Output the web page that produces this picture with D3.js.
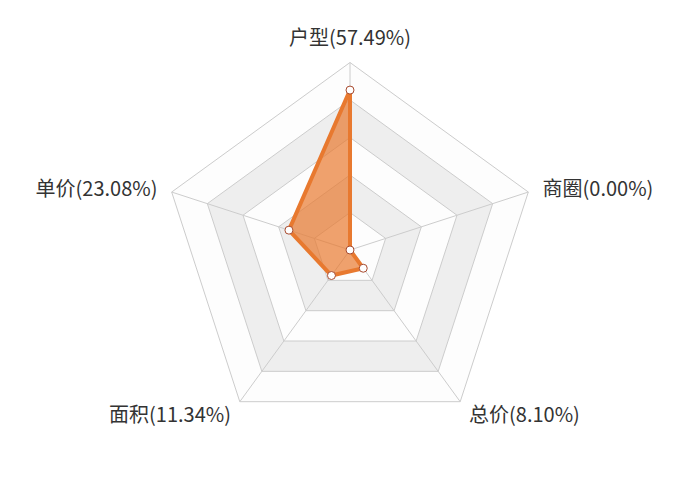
<!DOCTYPE html>
<html>
<head>
<meta charset="utf-8">
<script src="https://cdn.jsdelivr.net/npm/d3@7"></script>
<style>
html,body{margin:0;padding:0;background:#fff;}
svg{display:block;}
</style>
</head>
<body>
<svg id="chart" width="700" height="500"></svg>
<script>
const categories = ["户型", "商圈", "总价", "面积", "单价"];
const values = [57.49, 0.00, 8.10, 11.34, 23.08];
const maxValue = 67.4;
const splitCount = 5;

const width = 700, height = 500;
const cx = width / 2, cy = height / 2;
const R = Math.min(width, height) / 2 * 0.75;

const svg = d3.select("#chart");
const g = svg.append("g").attr("transform", `translate(${cx},${cy})`);

const n = categories.length;
const angle = d3.scaleLinear().domain([0, n]).range([0, 2 * Math.PI]);
const r = d3.scaleLinear().domain([0, maxValue]).range([0, R]);
const ringScale = d3.scaleLinear().domain([0, splitCount]).range([0, R]);

function pt(i, rad) {
  const a = angle(i);
  return [rad * Math.sin(a), -rad * Math.cos(a)];
}
function ringPoints(rad) {
  return d3.range(n).map(i => pt(i, rad));
}

const areaColors = ["rgba(250,250,250,0.3)", "rgba(200,200,200,0.3)"];
for (let k = 0; k < splitCount; k++) {
  const outer = ringPoints(ringScale(k + 1));
  const inner = ringPoints(ringScale(k));
  let d = "M" + outer.map(p => p.join(",")).join("L") + "Z";
  if (k > 0) d += "M" + inner.slice().reverse().map(p => p.join(",")).join("L") + "Z";
  g.append("path").attr("d", d).attr("fill", areaColors[k % 2]).attr("fill-rule", "evenodd");
}
for (let k = 1; k <= splitCount; k++) {
  g.append("path")
    .attr("d", d3.line()(ringPoints(ringScale(k))) + "Z")
    .attr("fill", "none").attr("stroke", "#cccccc").attr("stroke-width", 1);
}
categories.forEach((c, i) => {
  const p = pt(i, R);
  g.append("line").attr("x1", 0).attr("y1", 0).attr("x2", p[0]).attr("y2", p[1])
    .attr("stroke", "#cccccc").attr("stroke-width", 1);
});

const dataPts = values.map((v, i) => pt(i, r(v)));
g.append("path")
  .attr("d", d3.line()(dataPts) + "Z")
  .attr("fill", "#e8792f").attr("fill-opacity", 0.7)
  .attr("stroke", "#e8792f").attr("stroke-width", 4).attr("stroke-linejoin", "round");
g.selectAll("circle.dot").data(dataPts).enter().append("circle")
  .attr("class", "dot")
  .attr("cx", d => d[0]).attr("cy", d => d[1]).attr("r", 4)
  .attr("fill", "#ffffff").attr("stroke", "#a84a2e").attr("stroke-width", 1);

categories.forEach((c, i) => {
  const p = pt(i, R + 15);
  const a = angle(i);
  const sx = Math.sin(a), cyv = -Math.cos(a);
  let anchor = Math.abs(sx) < 0.01 ? "middle" : (sx > 0 ? "start" : "end");
  let baseline = "central";
  let y = p[1];
  if (Math.abs(sx) < 0.01) { baseline = cyv < 0 ? "auto" : "hanging"; y = p[1] - (cyv < 0 ? 3 : 0); }
  g.append("text")
    .attr("x", p[0]).attr("y", y)
    .attr("text-anchor", anchor)
    .attr("dominant-baseline", baseline)
    .attr("font-family", "'Noto Sans CJK SC', 'Noto Sans', sans-serif")
    .attr("font-size", 20)
    .attr("fill", "#333333")
    .text(`${c}(${values[i].toFixed(2)}%)`);
});
</script>
</body>
</html>
